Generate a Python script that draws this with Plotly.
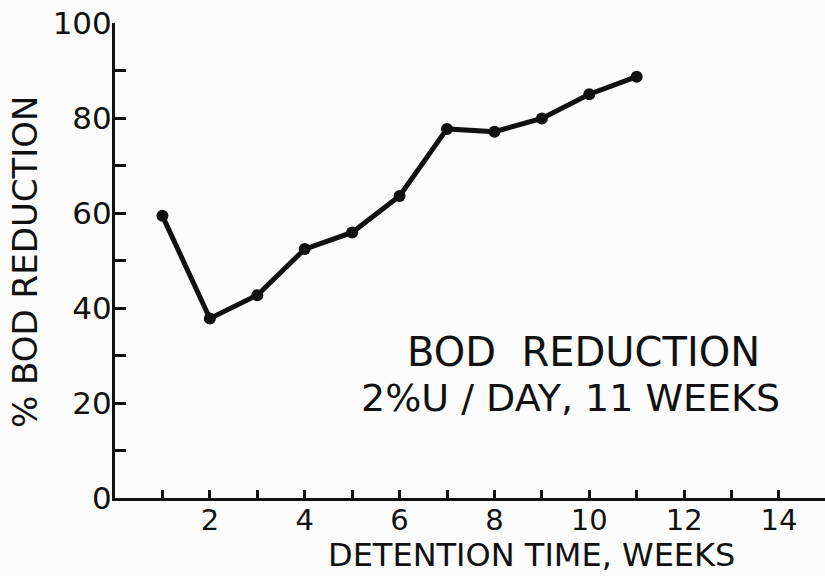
import plotly.graph_objects as go

# Data
weeks = [1, 2, 3, 4, 5, 6, 7, 8, 9, 10, 11]
bod_reduction = [59.4, 37.8, 42.7, 52.4, 55.9, 63.6, 77.7, 77.1, 79.9, 85.0, 88.7]

x_tickvals = [1, 2, 3, 4, 5, 6, 7, 8, 9, 10, 11, 12, 13, 14]
x_ticktext = ["", "2", "", "4", "", "6", "", "8", "", "10", "", "12", "", "14"]
y_tickvals = [0, 10, 20, 30, 40, 50, 60, 70, 80, 90, 100]
y_ticktext = ["0", "", "20", "", "40", "", "60", "", "80", "", "100"]

x_title = "DETENTION TIME, WEEKS"
y_title = "% BOD REDUCTION"
note_line1 = "BOD  REDUCTION"
note_line2 = "2%U / DAY, 11 WEEKS"

INK = "#111111"
FONT = "DejaVu Sans"

fig = go.Figure()
fig.add_trace(go.Scatter(
    x=weeks, y=bod_reduction, mode="lines+markers",
    line=dict(color=INK, width=5),
    marker=dict(color=INK, size=12),
    showlegend=False, hoverinfo="skip",
))

fig.update_layout(
    width=825, height=576,
    margin=dict(l=115, r=0, t=23, b=78, autoexpand=False),
    paper_bgcolor="#fbfbfb", plot_bgcolor="#fbfbfb",
    font=dict(family=FONT, color=INK),
    xaxis=dict(
        range=[0, 14.97], showgrid=False, zeroline=False, automargin=False,
        showline=True, linecolor=INK, linewidth=3,
        tickmode="array", tickvals=x_tickvals, ticktext=x_ticktext,
        ticks="inside", ticklen=8, tickwidth=2.5, tickcolor=INK,
        tickfont=dict(size=29, family=FONT, color=INK),
        ticklabelstandoff=-6,
    ),
    yaxis=dict(
        range=[0, 100], showgrid=False, zeroline=False, automargin=False,
        showline=True, linecolor=INK, linewidth=3,
        tickmode="array", tickvals=y_tickvals, ticktext=y_ticktext,
        ticks="inside", ticklen=11, tickwidth=2.5, tickcolor=INK,
        tickfont=dict(size=31, family=FONT, color=INK),
        ticklabelstandoff=-6,
    ),
    annotations=[
        dict(text=x_title, xref="paper", yref="paper", x=(531 - 115) / 710, y=-(555 - 498) / 475,
             showarrow=False, xanchor="center", yanchor="middle",
             font=dict(size=32, family=FONT, color=INK)),
        dict(text=y_title, xref="paper", yref="paper", x=-(115 - 25) / 710, y=(498 - 262) / 475,
             showarrow=False, xanchor="center", yanchor="middle", textangle=-90,
             font=dict(size=34, family=FONT, color=INK)),
        dict(text=note_line1, xref="paper", yref="paper", x=(583 - 115) / 710, y=(498 - 352) / 475,
             showarrow=False, xanchor="center", yanchor="middle",
             font=dict(size=40, family=FONT, color=INK)),
        dict(text=note_line2, xref="paper", yref="paper", x=(570 - 115) / 710, y=(498 - 398) / 475,
             showarrow=False, xanchor="center", yanchor="middle",
             font=dict(size=38, family=FONT, color=INK)),
    ],
)

# Remove the browser's default 8px body margin so the figure fills the window exactly.
fig.write_html("out.html", config={"displayModeBar": False},
               post_script="document.body.style.margin='0';")
